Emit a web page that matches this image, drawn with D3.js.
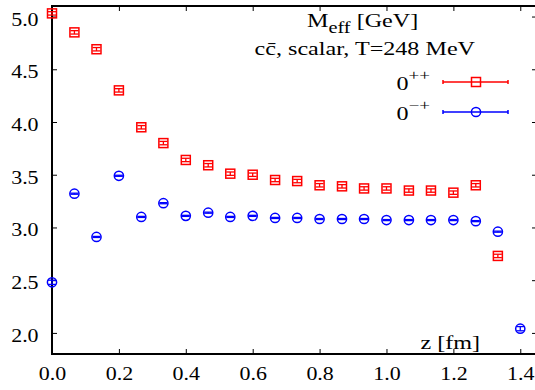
<!DOCTYPE html>
<html>
<head>
<meta charset="utf-8">
<script src="https://cdn.jsdelivr.net/npm/d3@7"></script>
<style>
  body { margin: 0; background: #fff; }
  svg text { font-family: "Liberation Serif", Tinos, "Times New Roman", Times, serif; fill: #000; }
</style>
</head>
<body>
<div id="chart"></div>
<script>
// z positions (fm)
const zValues = [0, 0.067, 0.133, 0.2, 0.267, 0.333, 0.4, 0.467, 0.533, 0.6, 0.667,
                 0.733, 0.8, 0.867, 0.933, 1.0, 1.067, 1.133, 1.2, 1.267, 1.333, 1.4];

// 0++ effective mass (GeV)
const scalarMass = [5.03, 4.85, 4.69, 4.30, 3.95, 3.80, 3.64, 3.59, 3.51, 3.50, 3.45,
                    3.44, 3.40, 3.39, 3.37, 3.37, 3.35, 3.35, 3.33, 3.40, 2.73];
const scalarErr  = [0.016, 0.016, 0.016, 0.016, 0.016, 0.016, 0.016, 0.016, 0.016, 0.016, 0.016,
                    0.016, 0.016, 0.016, 0.016, 0.016, 0.016, 0.016, 0.016, 0.016, 0.016];

// 0-+ effective mass (GeV)
const pseudoMass = [2.48, 3.32, 2.91, 3.49, 3.10, 3.23, 3.11, 3.14, 3.10, 3.11, 3.09,
                    3.09, 3.08, 3.08, 3.08, 3.07, 3.07, 3.07, 3.07, 3.06, 2.96, 2.04];
const pseudoErr  = [0.02, 0.005, 0.005, 0.005, 0.005, 0.005, 0.005, 0.005, 0.005, 0.005, 0.005,
                    0.005, 0.005, 0.005, 0.005, 0.005, 0.005, 0.005, 0.005, 0.005, 0.005, 0.02];

const xTicks = [0, 0.2, 0.4, 0.6, 0.8, 1.0, 1.2, 1.4];
const yTicks = [2.0, 2.5, 3.0, 3.5, 4.0, 4.5, 5.0];

const W = 535, H = 390;
const mLeft = 52, mRight = 537, mTop = 6, mBottom = 354;
const TICK_SX = 1.22; // glyphs in the original are stretched horizontally
const LBL_SX = 1.27;
const FONT = '"Liberation Serif", Tinos, "Times New Roman", Times, serif';

const svg = d3.select("#chart").append("svg")
  .attr("width", W)
  .attr("height", H);

const x = d3.scaleLinear().domain([0, 1.45]).range([mLeft, mRight]);
const y = d3.scaleLinear().domain([1.8, 5.1]).range([mBottom, mTop]);

// Axes with inward ticks
svg.append("g")
  .attr("transform", `translate(0,${mBottom})`)
  .call(d3.axisBottom(x).tickValues(xTicks).tickSize(-5).tickPadding(13).tickFormat(d3.format(".1f")));
svg.append("g")
  .attr("transform", `translate(0,${mTop})`)
  .call(d3.axisTop(x).tickValues(xTicks).tickSize(-5).tickFormat(""));
svg.append("g")
  .attr("class", "yleft")
  .attr("transform", `translate(${mLeft},0)`)
  .call(d3.axisLeft(y).tickValues(yTicks).tickSize(-5).tickPadding(11).tickFormat(d3.format(".1f")));
svg.append("g")
  .attr("transform", `translate(${mRight},0)`)
  .call(d3.axisRight(y).tickValues(yTicks).tickSize(-5).tickFormat(""));

svg.selectAll(".domain").remove();
svg.selectAll("g").attr("font-family", FONT);
svg.selectAll(".tick line").attr("stroke", "#000").attr("stroke-width", 1);
svg.selectAll(".tick text")
  .attr("font-size", "18px")
  .attr("transform", `scale(${TICK_SX},1)`);
svg.selectAll(".yleft .tick text").attr("dy", "0.47em");

// frame
svg.append("rect")
  .attr("x", mLeft).attr("y", mTop)
  .attr("width", mRight - mLeft).attr("height", mBottom - mTop)
  .attr("fill", "none").attr("stroke", "#000").attr("stroke-width", 2);

// error bar helper
function errorBars(g, xs, ys, es, color, capW) {
  const data = ys.map((v, i) => ({ z: xs[i], v: v, e: es[i] }));
  const grp = g.selectAll(null).data(data).enter().append("g")
    .attr("stroke", color).attr("stroke-width", 1.3).attr("fill", "none");
  grp.append("line")
    .attr("x1", d => x(d.z)).attr("x2", d => x(d.z))
    .attr("y1", d => y(d.v - d.e)).attr("y2", d => y(d.v + d.e));
  grp.append("line")
    .attr("x1", d => x(d.z) - capW / 2).attr("x2", d => x(d.z) + capW / 2)
    .attr("y1", d => y(d.v - d.e)).attr("y2", d => y(d.v - d.e));
  grp.append("line")
    .attr("x1", d => x(d.z) - capW / 2).attr("x2", d => x(d.z) + capW / 2)
    .attr("y1", d => y(d.v + d.e)).attr("y2", d => y(d.v + d.e));
  return grp;
}

const plot = svg.append("g");

// 0++ : red squares
const red = "#ff0000", blue = "#0000ff";
errorBars(plot, zValues, scalarMass, scalarErr, red, 8);
plot.selectAll(null).data(scalarMass).enter().append("rect")
  .attr("x", (d, i) => x(zValues[i]) - 4.5)
  .attr("y", d => y(d) - 4.5)
  .attr("width", 9).attr("height", 9)
  .attr("fill", "none").attr("stroke", red).attr("stroke-width", 1.5);

// 0-+ : blue circles
errorBars(plot, zValues, pseudoMass, pseudoErr, blue, 8);
plot.selectAll(null).data(pseudoMass).enter().append("circle")
  .attr("cx", (d, i) => x(zValues[i]))
  .attr("cy", d => y(d))
  .attr("r", 4.6)
  .attr("fill", "none").attr("stroke", blue).attr("stroke-width", 1.5);

// text helper (stretched like the original)
function label(px, py, anchor) {
  return svg.append("text")
    .attr("transform", `translate(${px},${py}) scale(${LBL_SX},1)`)
    .attr("text-anchor", anchor)
    .attr("font-family", FONT)
    .attr("font-size", "19px");
}

// title block
const t1 = label(307, 27, "start");
t1.append("tspan").text("M");
t1.append("tspan").attr("font-size", "16px").attr("dy", 6).text("eff");
t1.append("tspan").attr("dy", -6).text(" [GeV]");

label(475, 55, "end").text("cc\u0304, scalar, T=248 MeV");

// legend
const legend = [
  { name: "0", sup: "++", color: red, shape: "square", ly: 82 },
  { name: "0", sup: "\u2212+", color: blue, shape: "circle", ly: 112 }
];
legend.forEach(d => {
  const t = label(430, d.ly + 8, "end");
  t.append("tspan").text(d.name);
  t.append("tspan").attr("font-size", "15px").attr("dy", -10).text(d.sup);

  const g = svg.append("g").attr("stroke", d.color).attr("stroke-width", 1.5).attr("fill", "none");
  g.append("line").attr("x1", 443).attr("x2", 508).attr("y1", d.ly).attr("y2", d.ly);
  g.append("line").attr("x1", 443).attr("x2", 443).attr("y1", d.ly - 2).attr("y2", d.ly + 2);
  g.append("line").attr("x1", 508).attr("x2", 508).attr("y1", d.ly - 2).attr("y2", d.ly + 2);
  if (d.shape === "square") {
    g.append("rect").attr("x", 476 - 4.5).attr("y", d.ly - 4.5).attr("width", 9).attr("height", 9);
  } else {
    g.append("circle").attr("cx", 476).attr("cy", d.ly).attr("r", 4.6);
  }
});

// axis label
label(480, 349, "end").text("z [fm]");
</script>
</body>
</html>
